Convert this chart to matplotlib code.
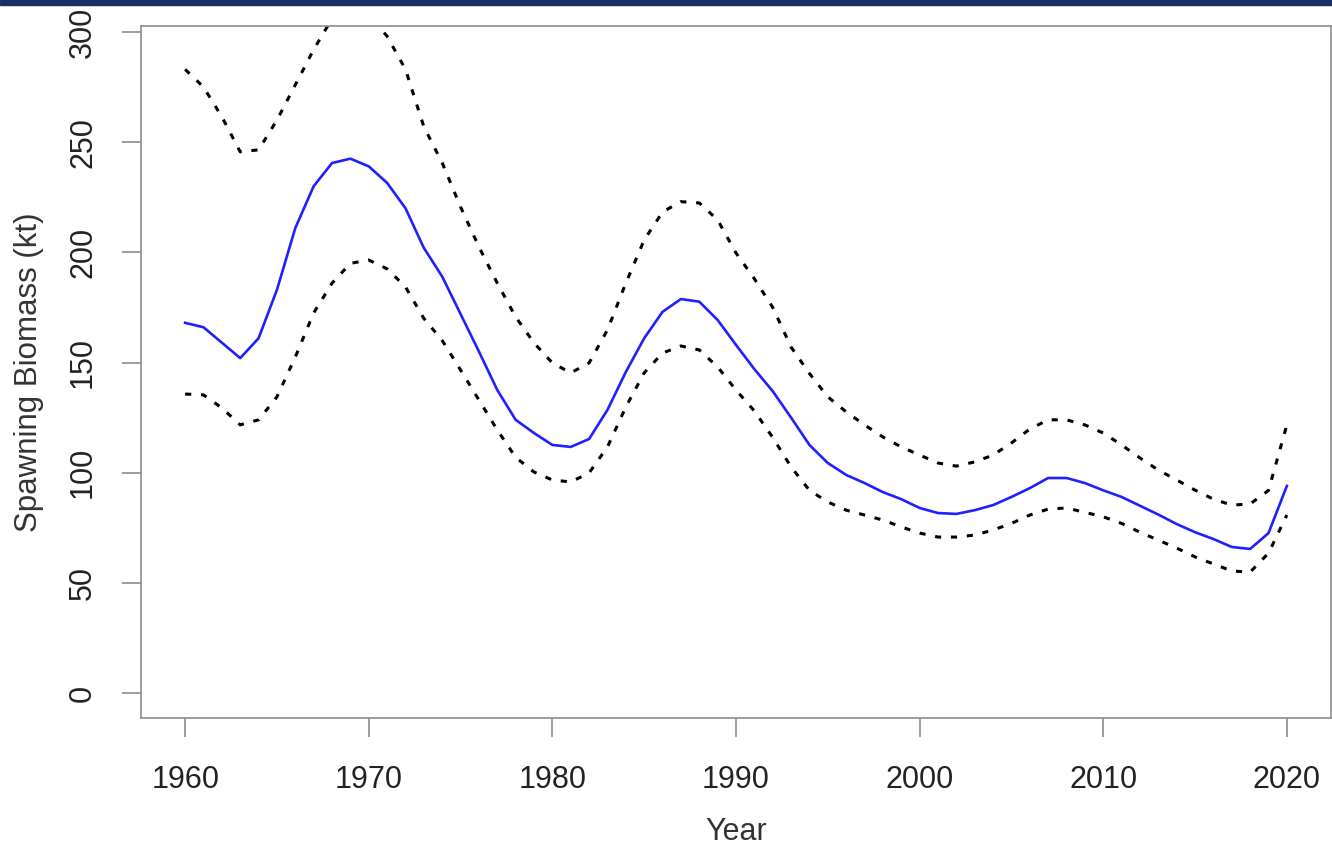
import matplotlib.pyplot as plt
from matplotlib.patches import Rectangle

plt.rcParams["font.family"] = ["Liberation Sans", "DejaVu Sans"]

# Spawning biomass estimate with 95% interval
years = list(range(1960, 2021))

biomass = [
    168, 166, 159, 152, 161, 183, 211, 230, 240.5, 242.5,
    239, 231.5, 220, 202, 189, 172, 155, 137.5, 124, 118,
    112.6, 111.7, 115.3, 128.5, 145.7, 161, 173, 178.8, 177.6, 169.3,
    158, 147, 137, 125, 112.6, 104.4, 99, 95.3, 91.2, 88,
    84, 81.7, 81.3, 83, 85.3, 89, 93, 97.6, 97.6, 95.3,
    92, 89, 85, 81, 76.7, 73, 69.9, 66.3, 65.4, 72.6,
    94,
]

upper = [
    283, 275, 261.5, 245.6, 246.5, 260, 276, 292, 306, 311,
    308, 298, 283, 257, 240.6, 220.6, 202.5, 186, 170.7, 158.9,
    149.8, 145.3, 149.8, 164.8, 186, 205.6, 218.3, 223, 222.4, 214.7,
    199.7, 188, 175, 157, 145, 134.4, 127.6, 121.7, 116.2, 111.7,
    108, 104.4, 103, 104.9, 108, 113.5, 119.8, 124, 124, 121.7,
    118, 112.6, 106.7, 101.2, 96.7, 92.1, 88, 85.3, 85.8, 92,
    121.7,
]

lower = [
    135.7, 135.3, 129.4, 121.7, 124, 134.4, 152.5, 172.5, 186, 195,
    196.5, 192.5, 184.3, 170, 160, 146.6, 133, 119.4, 107, 100.3,
    96.7, 95.8, 99.9, 111.7, 129.8, 145.3, 154.3, 157.5, 155.7, 148,
    137.5, 128, 116, 102.6, 92, 86.7, 83, 80.8, 78.5, 75.4,
    72.6, 70.8, 70.8, 71.7, 74, 77, 80.8, 83.5, 84, 82,
    80, 77, 73, 69.4, 65.8, 61.8, 58.6, 55.4, 54.9, 63.5,
    80.8,
]

x_ticks = [1960, 1970, 1980, 1990, 2000, 2010, 2020]
y_ticks = [0, 50, 100, 150, 200, 250, 300]


def plot_biomass():
    fig = plt.figure(figsize=(13.32, 8.49), dpi=100)
    ax = fig.add_axes([0.1059, 0.1543, 0.8933, 0.8151])

    # dark band along the top edge of the slide
    fig.patches.append(Rectangle((0, 0.994), 1, 0.006, transform=fig.transFigure,
                                 color="#1b2f5e", zorder=10))

    ax.plot(years, biomass, color="#1f1fff", lw=1.9, zorder=3)
    for band in (upper, lower):
        ax.plot(years, band, color="black", lw=2.2, dashes=(2, 3.2), zorder=2)

    ax.set_xlim(1957.6, 2022.4)
    ax.set_ylim(-11.3, 302.7)
    ax.set_xticks(x_ticks)
    ax.set_yticks(y_ticks)
    ax.set_yticklabels([str(v) for v in y_ticks], rotation=90, va="center")

    for side in ax.spines.values():
        side.set_color("#8c8c8c")
        side.set_linewidth(1.2)
    ax.tick_params(axis="both", colors="#8c8c8c", length=14, width=1.2,
                   labelcolor="#222222", labelsize=22)
    ax.tick_params(axis="x", pad=20)
    ax.tick_params(axis="y", pad=17)

    ax.set_xlabel("Year", fontsize=22, color="#333333", labelpad=16)
    ax.set_ylabel("Spawning Biomass (kt)", fontsize=22.5, color="#333333", labelpad=17)

    fig.savefig("out.png", dpi=100)


def main():
    plot_biomass()


if __name__ == "__main__":
    main()
